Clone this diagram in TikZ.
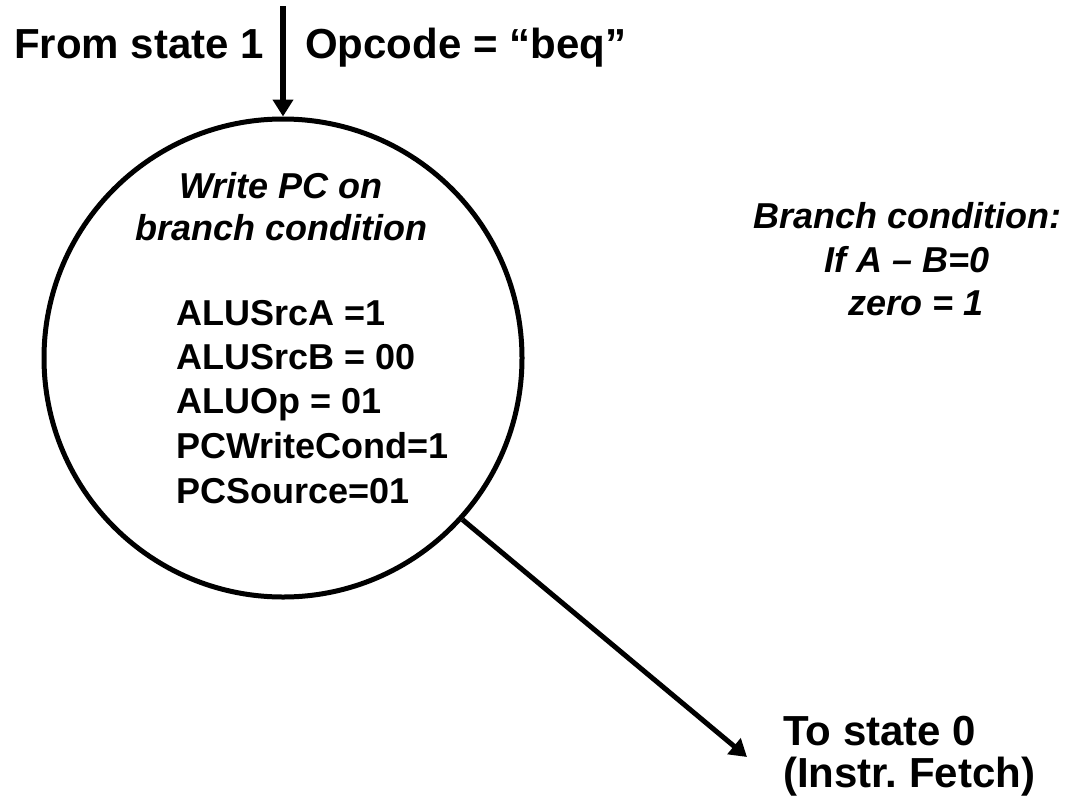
\documentclass[tikz,border=0pt]{standalone}
\usepackage{fontspec}
\setmainfont{Liberation Sans}
\usetikzlibrary{arrows.meta}
\frenchspacing
\tikzset{
  big/.style={font=\fontsize{42}{42}\selectfont\bfseries, inner sep=0pt},
  small/.style={font=\fontsize{36}{36}\selectfont\bfseries, inner sep=0pt},
  smallit/.style={font=\fontsize{36}{36}\selectfont\bfseries\itshape, inner sep=0pt},
  statecirc/.style={draw, circle, line width=5pt, minimum size=478pt, inner sep=0pt},
  conn/.style={line width=5.5pt, -{Triangle[length=17pt,width=20pt]}},
}
\begin{document}
\begin{tikzpicture}[x=1pt,y=-1pt]
\useasboundingbox (0,0) rectangle (1073,806);
\node[statecirc] (s) at (283,358) {};
\coordinate (inTop) at (283,6);
\coordinate (outEnd) at (747,757);
\draw[conn] (inTop) -- (s.north);
\draw[conn, line width=5pt] (s.-42) -- (outEnd);
\node[big, anchor=base east] (from) at (264,58) {From state 1};
\node[big, anchor=base west] (opc) at (305,58) {Opcode = “beq”};
\node[smallit, anchor=base] (t1) at (281,198) {Write PC on};
\node[smallit, anchor=base] (t2) at (281,240) {branch condition};
\node[small, anchor=base west] (a1) at (176,325) {ALUSrcA =1};
\node[small, anchor=base west] (a2) at (176,369) {ALUSrcB = 00};
\node[small, anchor=base west] (a3) at (176,413) {ALUOp = 01};
\node[small, anchor=base west] (a4) at (176,458) {PCWriteCond=1};
\node[small, anchor=base west] (a5) at (176,503) {PCSource=01};
\node[smallit, anchor=base] (b1) at (907,228) {Branch condition:};
\node[smallit, anchor=base] (b2) at (907,272) {If A – B=0};
\node[smallit, anchor=base] (b3) at (916,315) {zero = 1};
\node[big, anchor=base west] (to1) at (783,745) {To state 0};
\node[big, anchor=base west] (to2) at (783,787) {(Instr. Fetch)};
\end{tikzpicture}
\end{document}
